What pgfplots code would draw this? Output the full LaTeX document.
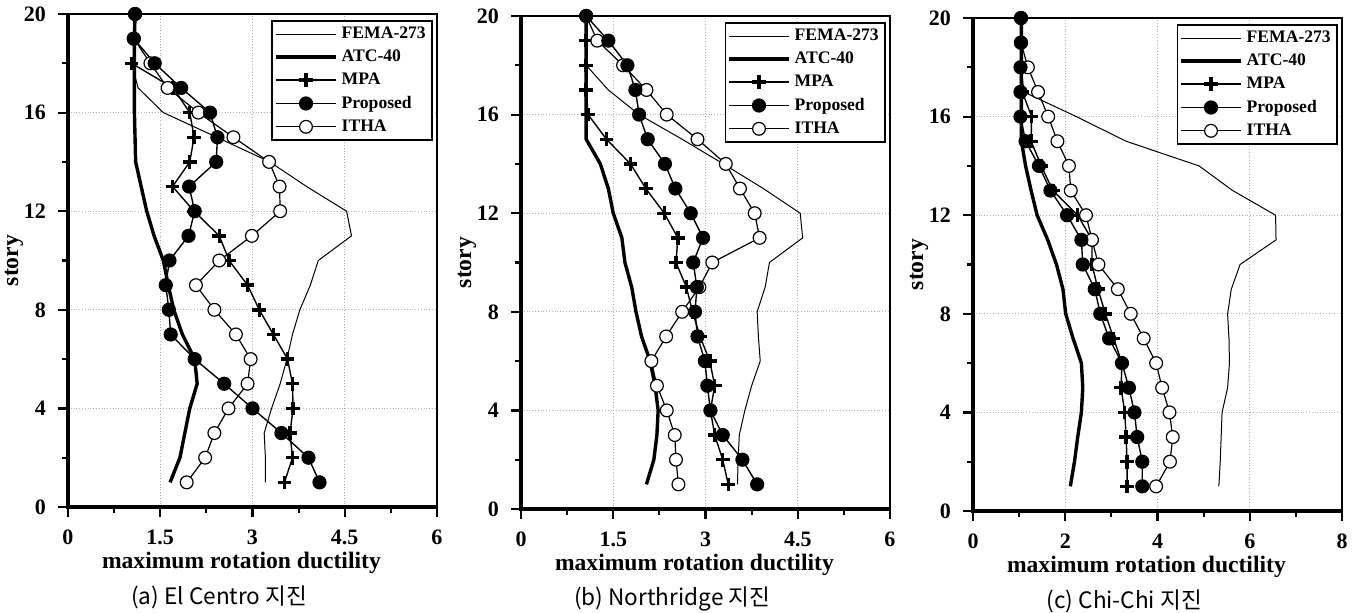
\documentclass[border=0pt]{standalone}
\usepackage{fontspec}
\setmainfont{Liberation Serif}
\newfontfamily\cjk{Noto Sans CJK KR}
\usepackage{pgfplots}
\pgfplotsset{compat=1.18}
\tikzset{
  axlab/.style={font=\bfseries\fontsize{11.8}{14}\selectfont},
  kcaption/.style={font=\cjk\fontsize{11.3}{13}\selectfont},
}
\pgfplotsset{
  fema/.style={black, line width=0.5pt, mark=none},
  atc/.style={black, line width=1.7pt, mark=none},
  mpa/.style={black, line width=0.7pt, mark=+, mark size=3.4pt, mark options={line width=1.7pt, solid}},
  prop/.style={black, line width=0.7pt, mark=*, mark size=3.2pt, mark options={fill=black, solid}},
  itha/.style={black, line width=0.6pt, mark=*, mark size=3.2pt, mark options={fill=white, line width=0.6pt, solid}},
  panel/.style={
    scale only axis, width=184.5pt, height=246.5pt, anchor=south west,
    ymin=0, ymax=20, ytick={0,4,8,12,16,20}, minor ytick={2,6,10,14,18},
    tick align=outside, xtick pos=bottom, ytick pos=left,
    major tick length=5pt, minor tick length=3pt,
    every tick/.style={black, line width=1.1pt},
    grid=major, major grid style={gray!60, densely dotted, line width=0.5pt},
    axis line style={line width=0.6pt},
    /pgf/number format/assume math mode=true,
    xticklabel={\pgfmathprintnumber{\tick}},
    yticklabel={\pgfmathprintnumber{\tick}},
    tick label style={font=\bfseries\fontsize{11}{13}\selectfont},
    xticklabel style={yshift=-3pt},
    yticklabel style={xshift=-2.5pt},
    legend style={at={(0.988,0.988)}, anchor=north east,
      font=\bfseries\fontsize{8.8}{10}\selectfont, draw=black, line width=0.8pt,
      inner sep=1pt, row sep=0.2pt, cells={anchor=west}},
    legend image code/.code={\draw[mark repeat=2, mark phase=2, ##1] plot coordinates {(0pt,0pt) (15pt,0pt) (30pt,0pt)};},
    clip=false,
  },
}
\begin{document}
\begin{tikzpicture}
\useasboundingbox (0,0) rectangle (680.5pt,306pt);
% ---------------- (a) ----------------
\begin{axis}[panel, at={(34pt,52.5pt)}, xmin=0, xmax=6, xtick={0,1.5,3,4.5,6}, minor x tick num=1]
\addplot[fema, forget plot] coordinates {(1.035,18)(1.14,17)(1.55,16)(2.42,15)(3.28,14)(3.88,13)(4.53,12)(4.61,11)(4.07,10)(3.94,9)(3.77,8)(3.65,7)(3.56,6)(3.45,5)(3.31,4)(3.19,3)(3.21,2)(3.21,1)};
\addplot[atc, forget plot] coordinates {(1.09,20)(1.08,19)(1.08,18)(1.08,17)(1.08,16)(1.09,15)(1.10,14)(1.19,13)(1.28,12)(1.40,11)(1.55,10)(1.63,9)(1.72,8)(1.86,7)(2.06,6)(2.10,5)(1.98,4)(1.90,3)(1.82,2)(1.66,1)};
\addplot[mpa, forget plot] coordinates {(1.035,18)(1.71,17)(1.98,16)(2.05,15)(1.98,14)(1.70,13)(2.05,12)(2.46,11)(2.62,10)(2.92,9)(3.11,8)(3.34,7)(3.57,6)(3.65,5)(3.66,4)(3.61,3)(3.65,2)(3.52,1)};
\addplot[itha, forget plot] coordinates {(1.09,20)(1.07,19)(1.34,18)(1.62,17)(2.12,16)(2.69,15)(3.27,14)(3.44,13)(3.45,12)(2.99,11)(2.46,10)(2.08,9)(2.38,8)(2.73,7)(2.97,6)(2.92,5)(2.61,4)(2.38,3)(2.23,2)(1.93,1)};
\addplot[prop, forget plot] coordinates {(1.09,20)(1.07,19)(1.41,18)(1.84,17)(2.31,16)(2.43,15)(2.41,14)(1.97,13)(2.06,12)(1.96,11)(1.65,10)(1.59,9)(1.64,8)(1.67,7)(2.06,6)(2.54,5)(3.00,4)(3.47,3)(3.91,2)(4.09,1)};
\addlegendimage{fema}\addlegendentry{FEMA-273}
\addlegendimage{atc}\addlegendentry{ATC-40}
\addlegendimage{mpa}\addlegendentry{MPA}
\addlegendimage{prop}\addlegendentry{Proposed}
\addlegendimage{itha}\addlegendentry{ITHA}
\draw[line width=1.6pt] (rel axis cs:0,1) -- (rel axis cs:0,0) -- (rel axis cs:1,0);
\node[axlab] at ([yshift=-28pt]rel axis cs:0.47,0) {maximum rotation ductility};
\node[axlab, rotate=90] at ([xshift=-27pt]rel axis cs:0,0.5) {story};
\node[kcaption] at ([yshift=-45pt]rel axis cs:0.41,0) {(a) El Centro 지진};
\end{axis}
% ---------------- (b) ----------------
\begin{axis}[panel, at={(260.5pt,51.5pt)}, xmin=0, xmax=6, xtick={0,1.5,3,4.5,6}, minor x tick num=1]
\addplot[fema, forget plot] coordinates {(1.06,18)(1.42,17)(1.92,16)(2.62,15)(3.29,14)(3.94,13)(4.54,12)(4.58,11)(4.04,10)(3.97,9)(3.84,8)(3.86,7)(3.89,6)(3.75,5)(3.64,4)(3.55,3)(3.53,2)(3.52,1)};
\addplot[atc, forget plot] coordinates {(1.06,20)(1.06,19)(1.06,18)(1.06,17)(1.06,16)(1.06,15)(1.29,14)(1.42,13)(1.50,12)(1.64,11)(1.69,10)(1.80,9)(1.87,8)(1.96,7)(2.10,6)(2.18,5)(2.23,4)(2.21,3)(2.16,2)(2.04,1)};
\addplot[mpa, forget plot] coordinates {(1.06,19)(1.06,18)(1.06,17)(1.09,16)(1.39,15)(1.78,14)(2.03,13)(2.33,12)(2.55,11)(2.52,10)(2.69,9)(2.79,8)(2.91,7)(3.07,6)(3.15,5)(3.08,4)(3.15,3)(3.28,2)(3.37,1)};
\addplot[itha, forget plot] coordinates {(1.06,20)(1.24,19)(1.66,18)(2.04,17)(2.37,16)(2.87,15)(3.33,14)(3.56,13)(3.80,12)(3.88,11)(3.11,10)(2.90,9)(2.62,8)(2.36,7)(2.12,6)(2.21,5)(2.37,4)(2.50,3)(2.52,2)(2.56,1)};
\addplot[prop, forget plot] coordinates {(1.06,20)(1.42,19)(1.73,18)(1.86,17)(1.92,16)(2.06,15)(2.34,14)(2.51,13)(2.76,12)(2.96,11)(2.80,10)(2.86,9)(2.83,8)(2.87,7)(2.99,6)(3.03,5)(3.08,4)(3.28,3)(3.60,2)(3.84,1)};
\addlegendimage{fema}\addlegendentry{FEMA-273}
\addlegendimage{atc}\addlegendentry{ATC-40}
\addlegendimage{mpa}\addlegendentry{MPA}
\addlegendimage{prop}\addlegendentry{Proposed}
\addlegendimage{itha}\addlegendentry{ITHA}
\draw[line width=1.6pt] (rel axis cs:0,1) -- (rel axis cs:0,0) -- (rel axis cs:1,0);
\node[axlab] at ([yshift=-28pt]rel axis cs:0.47,0) {maximum rotation ductility};
\node[axlab, rotate=90] at ([xshift=-27pt]rel axis cs:0,0.5) {story};
\node[kcaption] at ([yshift=-45pt]rel axis cs:0.41,0) {(b) Northridge 지진};
\end{axis}
% ---------------- (c) ----------------
\begin{axis}[panel, at={(486.5pt,50.5pt)}, xmin=0, xmax=8, xtick={0,2,4,6,8}, minor x tick num=1]
\addplot[fema, forget plot] coordinates {(1.05,18)(1.10,17)(2.24,16)(3.32,15)(4.90,14)(5.63,13)(6.56,12)(6.57,11)(5.79,10)(5.60,9)(5.52,8)(5.55,7)(5.56,6)(5.52,5)(5.40,4)(5.38,3)(5.36,2)(5.33,1)};
\addplot[atc, forget plot] coordinates {(1.05,20)(1.05,19)(1.05,18)(1.05,17)(1.05,16)(1.05,15)(1.14,14)(1.26,13)(1.39,12)(1.62,11)(1.81,10)(1.95,9)(2.01,8)(2.17,7)(2.35,6)(2.38,5)(2.35,4)(2.27,3)(2.20,2)(2.11,1)};
\addplot[mpa, forget plot] coordinates {(1.07,17)(1.27,16)(1.26,15)(1.48,14)(1.73,13)(2.27,12)(2.58,11)(2.58,10)(2.71,9)(2.87,8)(3.05,7)(3.23,6)(3.21,5)(3.29,4)(3.32,3)(3.34,2)(3.34,1)};
\addplot[itha, forget plot] coordinates {(1.04,20)(1.04,19)(1.19,18)(1.41,17)(1.63,16)(1.83,15)(2.08,14)(2.12,13)(2.45,12)(2.58,11)(2.72,10)(3.14,9)(3.42,8)(3.70,7)(3.97,6)(4.10,5)(4.26,4)(4.33,3)(4.27,2)(3.97,1)};
\addplot[prop, forget plot] coordinates {(1.04,20)(1.04,19)(1.03,18)(1.03,17)(1.03,16)(1.14,15)(1.43,14)(1.68,13)(2.04,12)(2.35,11)(2.38,10)(2.64,9)(2.76,8)(2.95,7)(3.23,6)(3.38,5)(3.50,4)(3.56,3)(3.67,2)(3.67,1)};
\addlegendimage{fema}\addlegendentry{FEMA-273}
\addlegendimage{atc}\addlegendentry{ATC-40}
\addlegendimage{mpa}\addlegendentry{MPA}
\addlegendimage{prop}\addlegendentry{Proposed}
\addlegendimage{itha}\addlegendentry{ITHA}
\draw[line width=1.6pt] (rel axis cs:0,1) -- (rel axis cs:0,0) -- (rel axis cs:1,0);
\node[axlab] at ([yshift=-28pt]rel axis cs:0.47,0) {maximum rotation ductility};
\node[axlab, rotate=90] at ([xshift=-27pt]rel axis cs:0,0.5) {story};
\node[kcaption] at ([yshift=-45pt]rel axis cs:0.41,0) {(c) Chi-Chi 지진};
\end{axis}
\end{tikzpicture}
\end{document}
